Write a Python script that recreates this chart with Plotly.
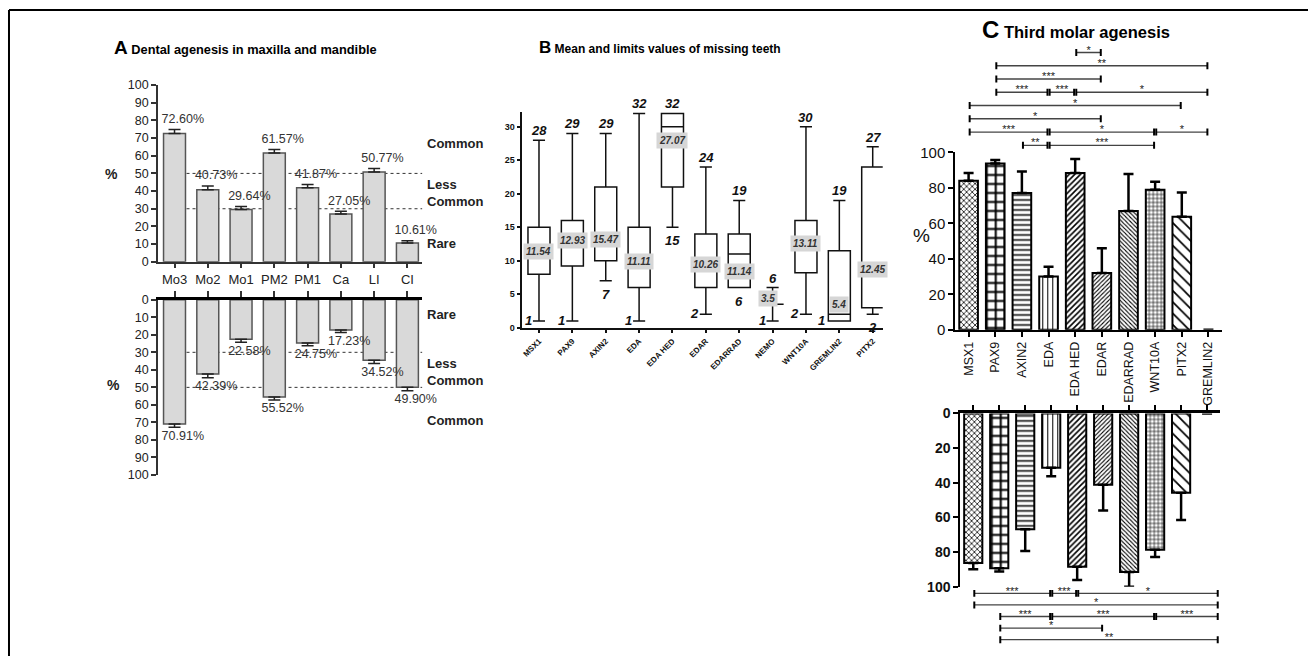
import plotly.graph_objects as go

W, H = 1308, 664
FONT = "Liberation Sans, Arial, sans-serif"

# ---------------- Panel A data ----------------
teeth = ["Mo3", "Mo2", "Mo1", "PM2", "PM1", "Ca", "LI", "CI"]
maxilla_pct = [72.60, 40.73, 29.64, 61.57, 41.87, 27.05, 50.77, 10.61]
maxilla_err = [2.3, 2.1, 1.7, 2.0, 1.9, 1.6, 2.0, 1.3]
mandible_pct = [70.91, 42.39, 22.58, 55.52, 24.75, 17.23, 34.52, 49.90]
mandible_err = [1.9, 2.1, 1.7, 1.7, 1.5, 1.4, 1.8, 2.0]
threshold_levels = [30, 50]
zone_names_top = ["Common", "Less<br>Common", "Rare"]
zone_names_bottom = ["Rare", "Less<br>Common", "Common"]

# ---------------- Panel B data ----------------
genes_b = ["MSX1", "PAX9", "AXIN2", "EDA", "EDA HED", "EDAR", "EDARRAD",
           "NEMO", "WNT10A", "GREMLIN2", "PITX2"]
b_min = [1, 1, 7, 1, 15, 2, 6, 1, 2, 1, 2]
b_q1 = [8, 9.2, 10, 6, 21, 6, 6, 3.5, 8.2, 1, 3]
b_median = [11.4, 13.0, 13.2, 9.9, 30, 9.5, 11, 3.5, 12.5, 2, 8.7]
b_q3 = [15, 16, 21, 15, 32, 14, 14, 3.5, 16, 11.5, 24]
b_max = [28, 29, 29, 32, 32, 24, 19, 6, 30, 19, 27]
b_mean = ["11.54", "12.93", "15.47", "11.11", "27.07", "10.26", "11.14",
          "3.5", "13.11", "5.4", "12.45"]

# ---------------- Panel C data ----------------
genes_c = ["MSX1", "PAX9", "AXIN2", "EDA", "EDA HED", "EDAR", "EDARRAD",
           "WNT10A", "PITX2", "GREMLIN2"]
upper_pct = [84.0, 93.8, 77.1, 30.1, 88.4, 32.0, 67.0, 79.0, 63.7, 0]
upper_err = [4.4, 1.9, 12.2, 5.4, 7.9, 14.0, 20.8, 4.5, 13.7, 0]
lower_pct = [86.3, 89.4, 66.9, 31.3, 88.5, 41.1, 91.5, 78.7, 45.8, 0]
lower_err = [3.7, 1.8, 12.5, 5.0, 7.6, 14.9, 8.5, 4.2, 15.7, 0]
upper_sig = [
    ("EDA HED", "EDAR", "*", 0),
    ("PAX9", "GREMLIN2", "**", 1),
    ("PAX9", "EDAR", "***", 2),
    ("PAX9", "EDA", "***", 3), ("EDA", "EDA HED", "***", 3), ("EDA HED", "GREMLIN2", "*", 3),
    ("MSX1", "PITX2", "*", 4),
    ("MSX1", "EDAR", "*", 5),
    ("MSX1", "EDA", "***", 6), ("EDA", "WNT10A", "*", 6), ("WNT10A", "GREMLIN2", "*", 6),
    ("AXIN2", "EDA", "**", 7), ("EDA", "WNT10A", "***", 7),
]
lower_sig = [
    ("MSX1", "EDA", "***", 0), ("EDA", "EDA HED", "***", 0), ("EDA HED", "end", "*", 0),
    ("MSX1", "end", "*", 1),
    ("PAX9", "EDA", "***", 2), ("EDA", "WNT10A", "***", 2), ("WNT10A", "end", "***", 2),
    ("PAX9", "EDAR", "*", 3),
    ("PAX9", "end", "**", 4),
]

# ---------------- styles ----------------
c_shape = ["x", "+", "-", "|", "/", "/", "\\", "+", "\\", ""]
c_size = [4, 9, 5, 5, 4, 3, 3, 4, 8, 4]
c_solid = [0.35, 0.4, 0.3, 0.2, 0.4, 0.35, 0.35, 0.3, 0.22, 0.2]
c_outline = [2, 2, 2, 2, 2, 2, 2, 2, 2, 0]
mean_label_y = [11.4, 13.0, 13.2, 9.9, 28.0, 9.5, 8.4, 4.4, 12.5, 3.4, 8.7]
min_label_style = ["left", "left", "below", "left", "below", "left", "below",
                   "left", "left", "leftbox", "below"]

# screen-to-layout vertical correction observed for the capture pipeline
Y_OFF, Y_SCALE = 8.2, 0.9746


def px(x):
    return x / W


def py(y):
    return 1 - ((y - Y_OFF) / Y_SCALE) / H


fig = go.Figure()
ia = list(range(len(teeth)))

for yv, ev, xa, ya, off in [(maxilla_pct, maxilla_err, "x", "y", 5.5),
                            (mandible_pct, mandible_err, "x2", "y2", 5.3)]:
    fig.add_trace(go.Bar(x=ia, y=yv, width=0.66, xaxis=xa, yaxis=ya,
                         marker=dict(color="#d9d9d9", line=dict(color="#555", width=1.5)),
                         error_y=dict(type="data", symmetric=False, array=ev,
                                      arrayminus=[0] * len(ia), color="#222",
                                      thickness=1.5, width=6)))
    fig.add_trace(go.Scatter(x=[i + 0.25 for i in ia],
                             y=[v + e + off for v, e in zip(yv, ev)],
                             text=[f"{v:.2f}%" for v in yv], mode="text",
                             textfont=dict(family=FONT, size=12.5, color="#333"),
                             cliponaxis=False, xaxis=xa, yaxis=ya))

ib = list(range(len(genes_b)))
fig.add_trace(go.Box(x=ib, q1=b_q1, median=b_median, q3=b_q3, lowerfence=b_min,
                     upperfence=b_max, xaxis="x3", yaxis="y3", width=0.66,
                     whiskerwidth=0.55, fillcolor="white",
                     line=dict(color="#111", width=1.5), boxpoints=False))

ic = list(range(len(genes_c)))
pat = dict(shape=c_shape, size=c_size, solidity=c_solid, fgcolor="black",
           bgcolor="white", fillmode="replace")
for yv, ev, xa, ya in [(upper_pct, upper_err, "x4", "y4"), (lower_pct, lower_err, "x5", "y5")]:
    fig.add_trace(go.Bar(x=ic, y=yv, width=0.7, xaxis=xa, yaxis=ya,
                         marker=dict(color="white", pattern=pat,
                                     line=dict(color="black", width=c_outline)),
                         error_y=dict(type="data", symmetric=False, array=ev,
                                      arrayminus=[0] * len(ic), color="black",
                                      thickness=2.5, width=5)))

cpos = {g: i for i, g in enumerate(genes_c)}


def brackets(sig, end_x, xa, ya, tick_h):
    gap = 0.04
    hx, hy, tx, ty, sx, sy, st = [], [], [], [], [], [], []
    for a, b, lab, row in sig:
        x1 = cpos[a] + gap
        x2 = (cpos[b] if b in cpos else end_x) - gap
        hx += [x1, x2, None]
        hy += [row, row, None]
        for xx in (x1, x2):
            tx += [xx, xx, None]
            ty += [row - tick_h, row + tick_h, None]
        sx.append((x1 + x2) / 2)
        sy.append(row - 0.12)
        st.append(lab)
    fig.add_trace(go.Scatter(x=hx, y=hy, mode="lines", line=dict(color="#444", width=1.3),
                             xaxis=xa, yaxis=ya, hoverinfo="skip"))
    fig.add_trace(go.Scatter(x=tx, y=ty, mode="lines", line=dict(color="black", width=2),
                             xaxis=xa, yaxis=ya, hoverinfo="skip"))
    fig.add_trace(go.Scatter(x=sx, y=sy, mode="text", text=st, cliponaxis=False,
                             textfont=dict(family=FONT, size=11, color="#222"),
                             xaxis=xa, yaxis=ya, hoverinfo="skip"))


brackets(upper_sig, len(genes_c) - 1, "x6", "y6", 0.27)
brackets(lower_sig, len(genes_c) - 0.55, "x7", "y7", 0.3)


def axis(**kw):
    base = dict(showgrid=False, zeroline=False, showline=True, linecolor="#333",
                linewidth=1.5, ticks="outside", tickcolor="#333", ticklen=5,
                tickwidth=1.5, tickfont=dict(family=FONT, size=12.5, color="#222"),
                fixedrange=True)
    base.update(kw)
    return base


A_x = [px(157), px(421.7)]
layout_axes = dict(
    xaxis=axis(domain=A_x, range=[-0.5, 7.45], tickvals=ia, ticktext=teeth, anchor="y",
               tickfont=dict(family=FONT, size=13, color="#222")),
    yaxis=axis(domain=[py(261), py(84.3)], range=[0, 100], dtick=10, anchor="x"),
    xaxis2=axis(domain=A_x, range=[-0.5, 7.45], tickvals=ia, showticklabels=False,
                side="top", anchor="y2", linecolor="black", linewidth=2.5, ticklen=6),
    yaxis2=axis(domain=[py(474.3), py(299)], range=[100, 0], dtick=10, anchor="x2"),
    xaxis3=axis(domain=[px(521.7), px(882.4)], range=[-0.5, 10.3], tickvals=ib,
                ticktext=["<b>" + g + "</b>" for g in genes_b], tickangle=-45,
                anchor="y3", linecolor="#111", ticklen=4, tickcolor="#111",
                tickfont=dict(family=FONT, size=8, color="#111")),
    yaxis3=axis(domain=[py(327), py(327 - 32.2 * 6.7)], range=[0, 32.2],
                tickvals=[0, 5, 10, 15, 20, 25, 30],
                ticktext=["<b>%d</b>" % v for v in [0, 5, 10, 15, 20, 25, 30]],
                anchor="x3", linecolor="#111", ticklen=4, tickcolor="#111",
                tickfont=dict(family=FONT, size=9, color="#111")),
    xaxis4=axis(domain=[px(955), px(1221.7)], range=[-0.5, 9.5], tickvals=ic,
                ticktext=genes_c, tickangle=-90, anchor="y4", linecolor="black",
                linewidth=2, tickcolor="black", tickwidth=2,
                tickfont=dict(family=FONT, size=12.5, color="#111")),
    yaxis4=axis(domain=[py(329), py(151.7)], range=[0, 100], dtick=20, anchor="x4",
                linecolor="black", linewidth=2, tickcolor="black", tickwidth=2,
                tickfont=dict(family=FONT, size=15, color="#111")),
    xaxis5=axis(domain=[px(960), px(1220)], range=[-0.5, 9.5], tickvals=ic,
                showticklabels=False, side="top", anchor="y5", linecolor="black",
                linewidth=2.5, tickcolor="black", tickwidth=2, ticklen=6),
    yaxis5=axis(domain=[py(586), py(412.7)], range=[100, 0], tickvals=[0, 20, 40, 60, 80, 100],
                ticktext=["<b>%d</b>" % v for v in [0, 20, 40, 60, 80, 100]],
                anchor="x5", linecolor="black", linewidth=2, tickcolor="black", tickwidth=2,
                tickfont=dict(family=FONT, size=14, color="#111")),
    xaxis6=dict(domain=[px(955), px(1221.7)], range=[-0.5, 9.5], visible=False,
                anchor="y6", fixedrange=True),
    yaxis6=dict(domain=[py(151.15), py(45.07)], range=[7.5, -0.5], visible=False,
                anchor="x6", fixedrange=True),
    xaxis7=dict(domain=[px(960), px(1220)], range=[-0.5, 9.5], visible=False,
                anchor="y7", fixedrange=True),
    yaxis7=dict(domain=[py(644.8), py(586.9)], range=[4.5, -0.5], visible=False,
                anchor="x7", fixedrange=True),
)

shapes = []
for ref_y in ("y", "y2"):
    for lv in threshold_levels:
        shapes.append(dict(type="line", xref=ref_y.replace("y", "x"), yref=ref_y,
                           x0=0, x1=7.45, y0=lv, y1=lv, layer="below",
                           line=dict(color="#333", width=1, dash="dot")))
shapes.append(dict(type="line", xref="paper", yref="paper", x0=px(8), x1=px(8),
                   y0=0, y1=py(9.2), line=dict(color="black", width=2)))
shapes.append(dict(type="line", xref="paper", yref="paper", x0=px(8), x1=1,
                   y0=py(9.2), y1=py(9.2), line=dict(color="black", width=2)))

ann = []


def paper_text(x, y, text, font):
    ann.append(dict(xref="paper", yref="paper", x=px(x), y=py(y), xanchor="center",
                    yanchor="middle", showarrow=False, text=text, font=font))


paper_text(245, 47, "<b><span style='font-size:19px'>A</span> Dental agenesis in maxilla and mandible</b>",
           dict(family=FONT, size=12.8, color="black"))
paper_text(660, 47, "<b><span style='font-size:17px'>B</span> Mean and limits values of missing teeth</b>",
           dict(family=FONT, size=12, color="black"))
paper_text(1076, 29, "<b><span style='font-size:24px'>C</span> Third molar agenesis</b>",
           dict(family=FONT, size=16.5, color="black"))
paper_text(111, 173, "<b>%</b>", dict(family=FONT, size=14, color="#222"))
paper_text(113, 384, "<b>%</b>", dict(family=FONT, size=14, color="#222"))
paper_text(921.7, 235, "%", dict(family=FONT, size=19, color="#111"))

for name, yv in zip(zone_names_top, [67, 38.8, 10.4]):
    ann.append(dict(xref="paper", yref="y", x=px(424), y=yv, xanchor="left",
                    yanchor="middle", showarrow=False, text="<b>" + name + "</b>",
                    align="left", font=dict(family=FONT, size=13, color="#222")))
for name, yv in zip(zone_names_bottom, [8.7, 41.5, 69.0]):
    ann.append(dict(xref="paper", yref="y2", x=px(424), y=yv, xanchor="left",
                    yanchor="middle", showarrow=False, text="<b>" + name + "</b>",
                    align="left", font=dict(family=FONT, size=13, color="#222")))

bi = dict(family=FONT, size=13, color="#111")
for i in ib:
    ann.append(dict(xref="x3", yref="y3", x=i, y=b_max[i], yanchor="bottom",
                    showarrow=False, text="<b><i>%g</i></b>" % b_max[i], font=bi))
    st = min_label_style[i]
    if st == "below":
        ann.append(dict(xref="x3", yref="y3", x=i, y=b_min[i], yanchor="top", yshift=-4,
                        showarrow=False, text="<b><i>%g</i></b>" % b_min[i], font=bi))
    else:
        ann.append(dict(xref="x3", yref="y3", x=i, y=b_min[i], xanchor="right",
                        xshift=-5 if st == "left" else -12, yshift=1,
                        showarrow=False, text="<b><i>%g</i></b>" % b_min[i], font=bi))
    ann.append(dict(xref="x3", yref="y3", x=i, y=mean_label_y[i], showarrow=False,
                    xshift=-5 if genes_b[i] == "NEMO" else 0,
                    text="<b><i>" + b_mean[i] + "</i></b>", bgcolor="#d6d6d6", borderpad=2,
                    font=dict(family=FONT, size=10, color="#333")))

fig.update_layout(width=W, height=H, margin=dict(l=0, r=0, t=0, b=0),
                  paper_bgcolor="white", plot_bgcolor="white", showlegend=False,
                  barmode="overlay", shapes=shapes, annotations=ann, **layout_axes)
fig.write_html("out.html", config={"displayModeBar": False},
               post_script="document.body.style.margin='0';")
